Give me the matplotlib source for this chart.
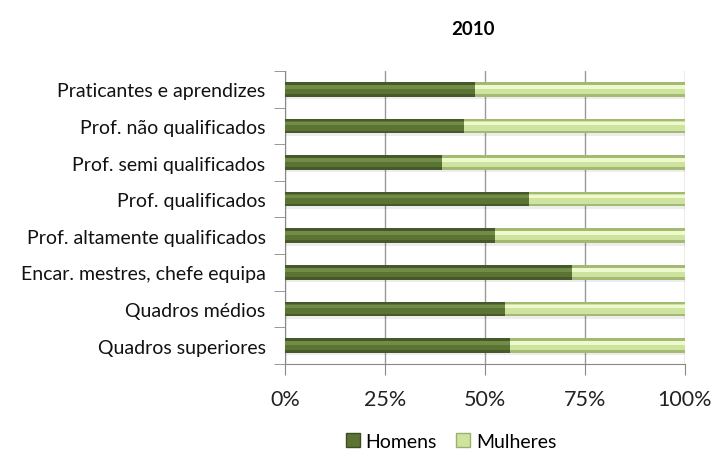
import matplotlib
matplotlib.use("Agg")
import matplotlib.pyplot as plt
from matplotlib.patches import Patch
import numpy as np

plt.rcParams['font.family'] = ['Lato', 'DejaVu Sans']

categories = ["Praticantes e aprendizes", "Prof. não qualificados", "Prof. semi qualificados",
              "Prof. qualificados", "Prof. altamente qualificados", "Encar. mestres, chefe equipa",
              "Quadros médios", "Quadros superiores"]
homens = [47.5, 44.8, 39.3, 60.9, 52.6, 71.7, 54.9, 56.3]
mulheres = [100 - h for h in homens]
ticks = [0, 25, 50, 75, 100]
tick_labels = ["0%", "25%", "50%", "75%", "100%"]

# bevel bands, bottom to top: (offset, height fraction, dark colour, light colour)
bands = [(0.00, 1.00, "#46592a", "#a3ba72"),
         (0.18, 0.64, "#5b7434", "#cfe3a0"),
         (0.55, 0.25, "#718c46", "#eef9cc")]

fig = plt.figure(figsize=(7.15, 4.56), dpi=100)
ax = fig.add_axes([0.3986, 0.2, 0.5594, 0.642])

y = np.arange(len(categories))[::-1]
h = 0.4

# soft shadow under the bars
ax.barh(y - 0.07, 100, height=h, color="#000000", alpha=0.07, linewidth=0, zorder=2)
for off, frac, cd, cl in bands:
    yb = y - h / 2 + off * h + frac * h / 2
    ax.barh(yb, homens, height=frac * h, color=cd, linewidth=0, zorder=3)
    ax.barh(yb, mulheres, left=homens, height=frac * h, color=cl, linewidth=0, zorder=3)

ax.set_xlim(0, 100)
ax.set_ylim(-0.5, len(categories) - 0.5)
ax.set_xticks(ticks)
ax.set_xticklabels(tick_labels, fontsize=15.5, color="#222222")
ax.set_yticks(y)
ax.set_yticklabels(categories, fontsize=14, color="#111111")
ax.set_yticks(np.arange(len(categories) + 1) - 0.5, minor=True)
ax.tick_params(axis='y', which='major', length=0, pad=14)
ax.tick_params(axis='y', which='minor', length=8, color="#888888", direction='out')
ax.tick_params(axis='x', length=8, color="#888888", direction='out', pad=10)
ax.grid(axis='x', color="#999999", linewidth=1, zorder=0)
ax.set_axisbelow(True)
for s in ['top', 'right']:
    ax.spines[s].set_visible(False)
for s in ['left', 'bottom']:
    ax.spines[s].set_color("#888888")

fig.text(0.661, 0.935, "2010", ha='center', va='center', fontsize=13.5, fontweight='bold')

handles = [Patch(facecolor="#5b7434", edgecolor="#3e4e1f", label="Homens"),
           Patch(facecolor="#cfe3a0", edgecolor="#9bb06a", label="Mulheres")]
fig.legend(handles=handles, loc='center', bbox_to_anchor=(0.631, 0.03), ncol=2, frameon=False,
           fontsize=14, handlelength=0.7, handleheight=0.7, handletextpad=0.3, columnspacing=1.0)

fig.savefig("out.png", dpi=100)
